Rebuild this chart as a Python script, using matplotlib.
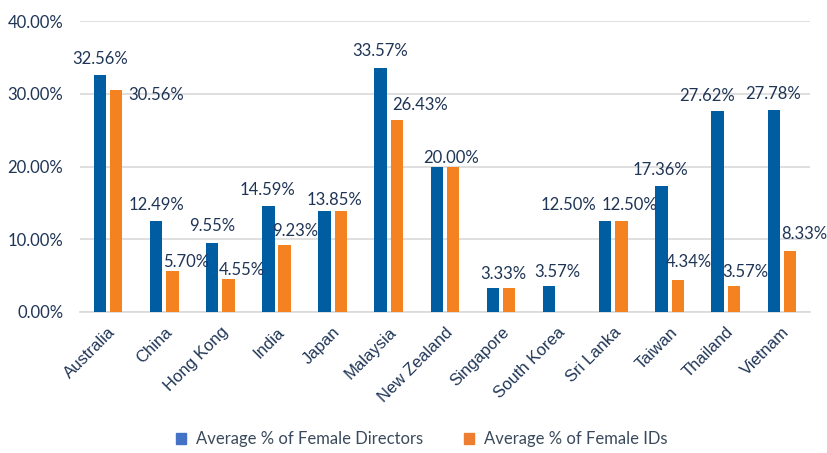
import numpy as np
import matplotlib.pyplot as plt
from matplotlib.ticker import FuncFormatter
from matplotlib.patches import Patch

# Dados
countries = ['Australia', 'China', 'Hong Kong', 'India', 'Japan', 'Malaysia',
             'New Zealand', 'Singapore', 'South Korea', 'Sri Lanka', 'Taiwan',
             'Thailand', 'Vietnam']
female_directors = [32.56, 12.49, 9.55, 14.59, 13.85, 33.57, 20.00, 3.33, 3.57,
                    12.50, 17.36, 27.62, 27.78]
female_ids = [30.56, 5.70, 4.55, 9.23, 13.85, 26.43, 20.00, 3.33, 0.0,
              12.50, 4.34, 3.57, 8.33]
series_names = ['Average % of Female Directors', 'Average % of Female IDs']

# deslocamento dos rotulos (pixels, a partir do topo da barra); None = sem rotulo
dir_offsets = [(0, 16), (0, 16), (0, 17), (-1, 16), (10, 11), (-1, 17), (14, 9),
               (10, 14), (8, 14), (-37, 16), (-1, 16), (-11, 15), (-1, 16)]
ids_offsets = [(40, -5), (14, 9), (13, 9), (11, 14), None, (23, 15), None,
               None, None, (8, 16), (11, 18), (11, 14), (14, 17)]

BLUE = '#015DA2'
ORANGE = '#F58220'
NAVY = '#1F3556'

plt.rcParams['font.family'] = ['Lato', 'DejaVu Sans']

fig = plt.figure(figsize=(8.27, 4.53), dpi=100)
ax = fig.add_axes([0.0967, 0.3113, 0.8827, 0.6423])

x = np.arange(len(countries))
w = 0.22
off = 0.145
ax.bar(x - off, female_directors, w, color=BLUE, zorder=3)
ax.bar(x + off, female_ids, w, color=ORANGE, zorder=3)

px = 0.72  # pontos por pixel
for xi, v, o in zip(x - off, female_directors, dir_offsets):
    if o is None:
        continue
    ax.annotate(f'{v:.2f}%', (xi, v), xytext=(o[0] * px, o[1] * px),
                textcoords='offset points', ha='center', va='center',
                fontsize=12, color=NAVY)
for xi, v, o in zip(x + off, female_ids, ids_offsets):
    if o is None:
        continue
    ax.annotate(f'{v:.2f}%', (xi, v), xytext=(o[0] * px, o[1] * px),
                textcoords='offset points', ha='center', va='center',
                fontsize=12, color=NAVY)

ax.set_xlim(-0.5, len(countries) - 0.5)
ax.set_ylim(0, 40)
ax.set_yticks([0, 10, 20, 30, 40])
ax.yaxis.set_major_formatter(FuncFormatter(lambda v, p: f'{v:.2f}%'))
ax.grid(axis='y', color='#D9D9D9', linewidth=1.2, zorder=0)
for s in ['top', 'right', 'left']:
    ax.spines[s].set_visible(False)
ax.spines['bottom'].set_color('#D9D9D9')
ax.spines['bottom'].set_linewidth(1.2)
ax.tick_params(axis='both', length=0)
ax.tick_params(axis='y', labelsize=12, labelcolor=NAVY, pad=12)

ax.set_xticks(x)
ax.set_xticklabels(countries, rotation=45, ha='right', rotation_mode='anchor',
                   fontsize=12, color=NAVY, fontname='Liberation Sans')
ax.tick_params(axis='x', pad=9)

handles = [Patch(color='#4472C4'), Patch(color='#ED7D31')]
fig.legend(handles, series_names, loc='center', bbox_to_anchor=(0.51, 0.03),
           ncol=2, frameon=False, fontsize=12, labelcolor='#3A4A5C',
           handlelength=0.55, handleheight=0.55, columnspacing=2.5, handletextpad=0.6)

plt.savefig('out.png', dpi=100, facecolor='white')
